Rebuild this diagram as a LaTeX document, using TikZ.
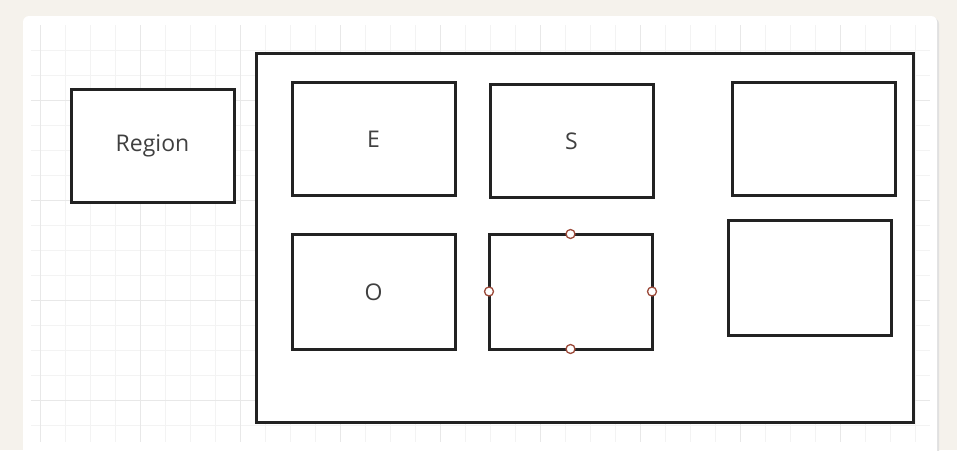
\documentclass[tikz,border=0pt]{standalone}
\usepackage{fontspec}
\setmainfont{Open Sans}
\usetikzlibrary{positioning}

\definecolor{paper}{HTML}{F5F2EC}
\definecolor{gridminor}{HTML}{F3F3F3}
\definecolor{gridmajor}{HTML}{E8E8E8}
\definecolor{boxline}{HTML}{222222}
\definecolor{labeltext}{HTML}{404040}
\definecolor{handlered}{HTML}{9C4A3A}

\begin{document}
\begin{tikzpicture}[x=1pt, y=-1pt]
		\tikzstyle{cell} = [rectangle, draw=boxline, line width=3pt, fill=white, minimum width=163pt, minimum height=113pt, inner sep=0, outer sep=0, align=center, text=labeltext, font=\fontsize{23}{25}\selectfont]
		\tikzstyle{frame} = [rectangle, draw=boxline, line width=3pt, fill=white, minimum width=657pt, minimum height=369pt, inner sep=0, outer sep=0]
		\tikzstyle{handle} = [circle, draw=handlered, fill=white, line width=1.3pt, minimum size=9pt, inner sep=0]

		% Canvas
		\useasboundingbox (0,0) rectangle (957,450);
		\clip (0,0) rectangle (957,450);
		\fill[paper] (0,0) rectangle (957,450);
		\fill[black!12, rounded corners=6pt] (24,18) rectangle (939,470);
		\fill[white, rounded corners=6pt] (23,16) rectangle (937,470);

		% Grid
		\foreach \x in {0,...,35} {
				\draw[gridminor, line width=0.8pt] (40+\x*25,25) -- (40+\x*25,442);
			};
		\foreach \y in {0,...,15} {
				\draw[gridminor, line width=0.8pt] (31,50+\y*25) -- (930,50+\y*25);
			};
		\foreach \x in {0,...,8} {
				\draw[gridmajor, line width=0.8pt] (40+\x*100,25) -- (40+\x*100,442);
			};
		\foreach \y in {1,...,4} {
				\draw[gridmajor, line width=0.8pt] (31,\y*100) -- (930,\y*100);
			};

		% Region
		\node[cell](region) at (152.5,146) {Region};

		% Container
		\node[frame](container) at (584.5,237.5) {};

		\node[cell](cell_e) at (373.5,139) {E};
		\node[cell](cell_s) at (571.5,141) {S};
		\node[cell](cell_tr) at (813.5,138.5) {};
		\node[cell, minimum height=115pt](cell_o) at (373.5,292) {O};
		\node[cell, minimum height=115pt](cell_sel) at (570.5,291.5) {};
		\node[cell, minimum height=115pt](cell_br) at (809.5,277.5) {};

		% Selection handles
		\foreach \a in {north,south,east,west} {
				\node[handle](sel_\a) at (cell_sel.\a) {};
			};

	\end{tikzpicture}
\end{document}
